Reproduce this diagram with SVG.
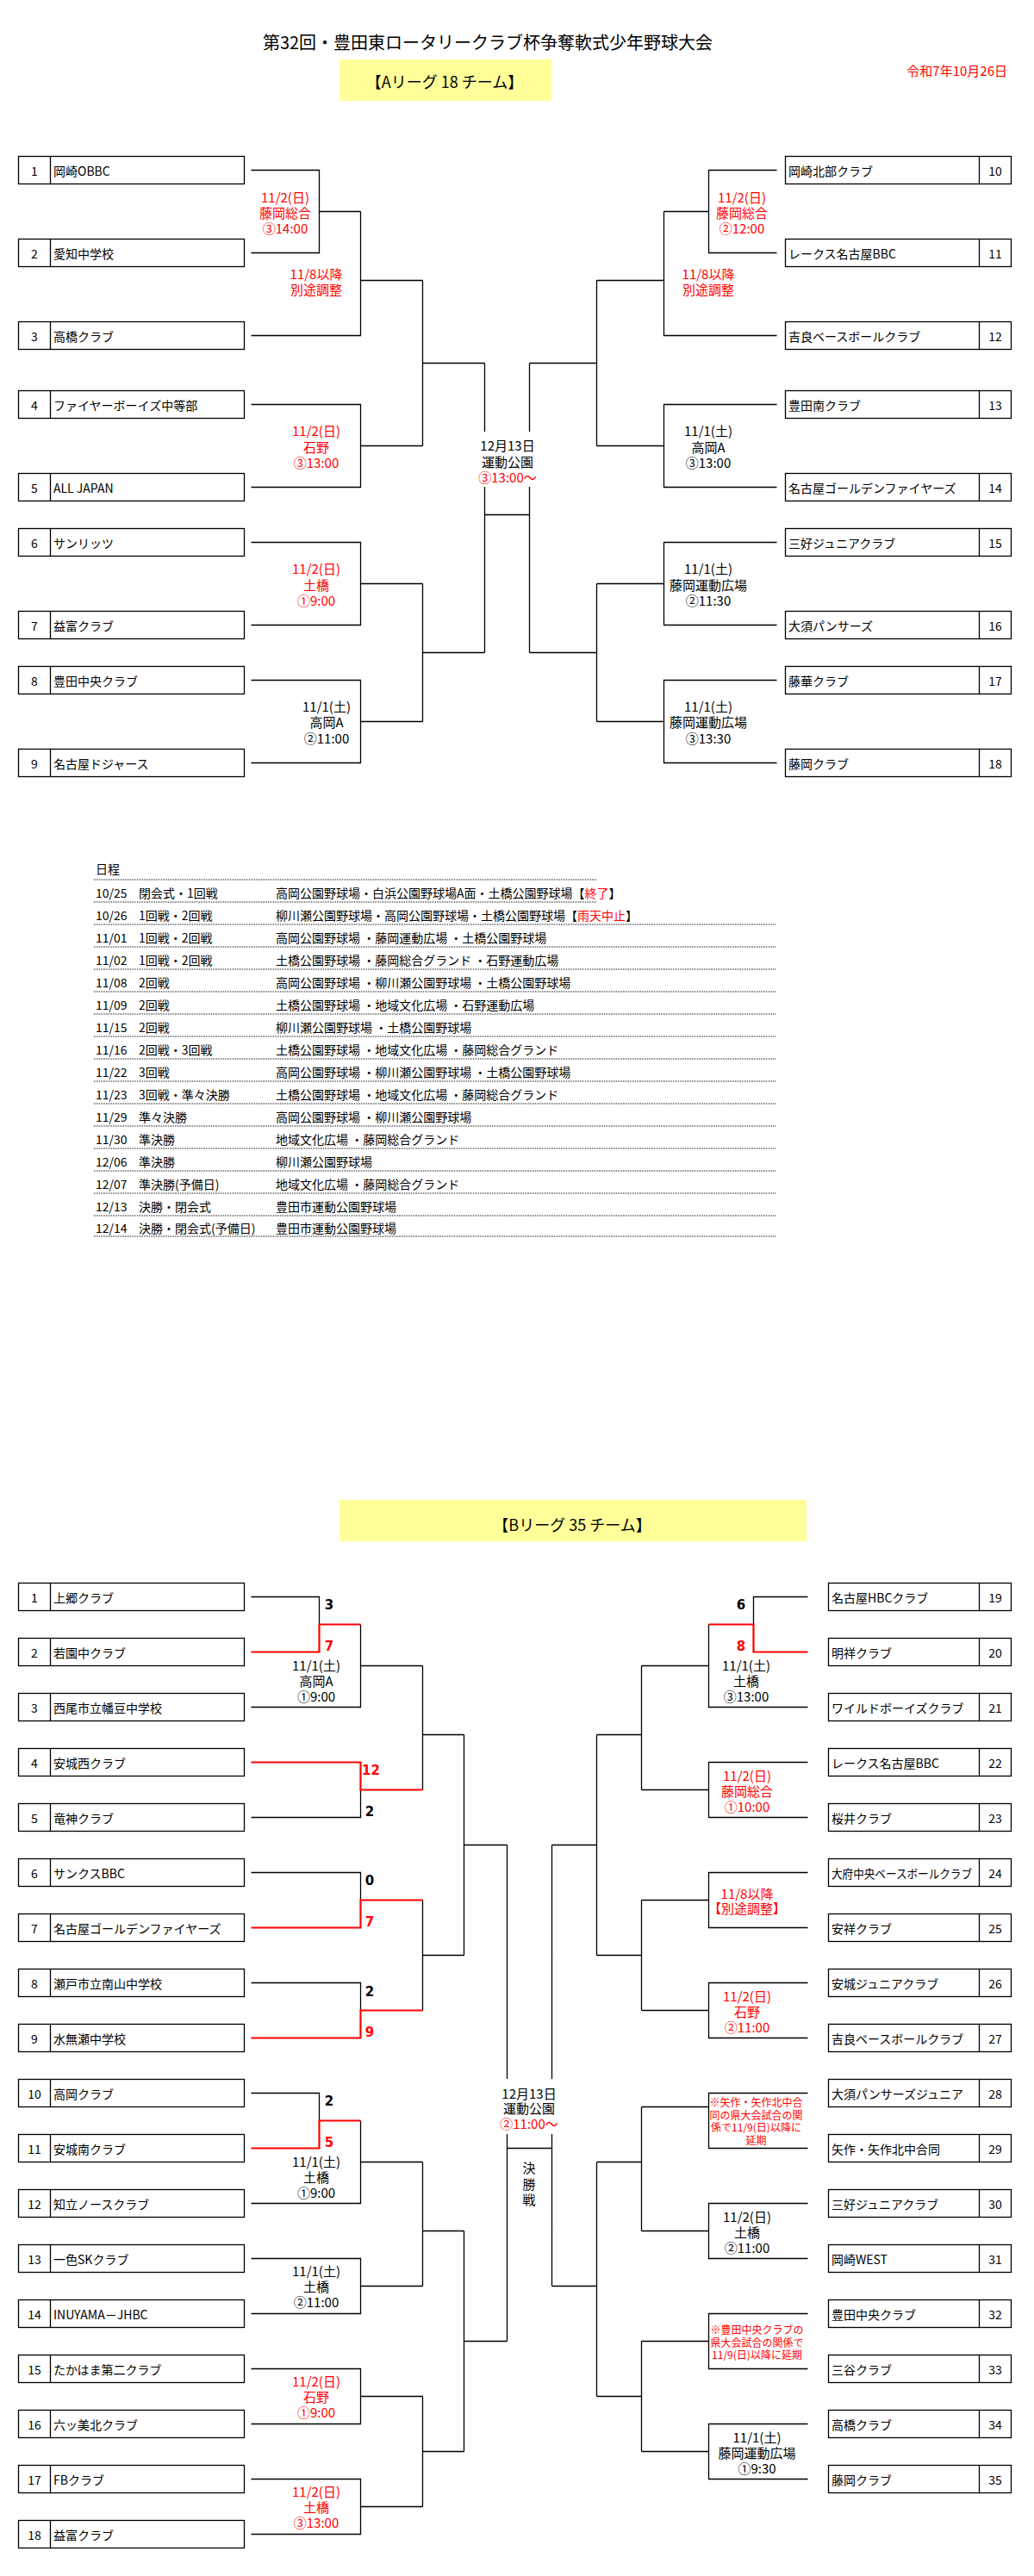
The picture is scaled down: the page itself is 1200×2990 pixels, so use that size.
<svg xmlns="http://www.w3.org/2000/svg" width="1200" height="2990" viewBox="0 0 1200 2990">
<style>
text{font-family:"Noto Sans CJK JP","Noto Sans CJK SC",sans-serif;dominant-baseline:central;fill:#000}
.r{fill:#f00}
.nm{font-size:14px}
.no{font-size:14px;text-anchor:middle}
.lb{font-size:15px;text-anchor:middle}
.sm{font-size:12px;text-anchor:middle}
.sc{font-family:"DejaVu Sans",sans-serif;font-weight:bold;font-size:15px;text-anchor:middle}
.sch{font-size:14px}
.box{fill:#fff;stroke:#000;stroke-width:1.3}
.dv{stroke:#000;stroke-width:1.3}
.ln{fill:none;stroke:#000;stroke-width:1.3}
.rl{fill:none;stroke:#f00;stroke-width:2.2}
.dot{stroke:#000;stroke-width:1;stroke-dasharray:1 1}
.yel{fill:#ffff99}
</style>
<defs>
<g id="boxL"><rect class="box" x="21.5" y="0" width="262" height="32"/><line class="dv" x1="58.5" y1="0" x2="58.5" y2="32"/></g>
<g id="boxRA"><rect class="box" x="911.5" y="0" width="262" height="32"/><line class="dv" x1="1136.5" y1="0" x2="1136.5" y2="32"/></g>
<g id="boxRB"><rect class="box" x="961.5" y="0" width="212" height="32"/><line class="dv" x1="1136.5" y1="0" x2="1136.5" y2="32"/></g>
</defs>

<g id="header">
<text x="566" y="48.5" style="font-size:20px;text-anchor:middle">第32回・豊田東ロータリークラブ杯争奪軟式少年野球大会</text>
<text x="1169" y="81.5" class="r" style="font-size:15px;text-anchor:end">令和7年10月26日</text>
<rect class="yel" x="394" y="69" width="246" height="48"/>
<text x="516" y="94" style="font-size:18px;text-anchor:middle">【Aリーグ 18 チーム】</text>
</g>

<!-- A league teams -->
<g id="a1" transform="translate(0,181.5)"><use href="#boxL"/><text class="no" x="40" y="16">1</text><text class="nm" x="62" y="16">岡崎OBBC</text></g>
<g id="a2" transform="translate(0,277.5)"><use href="#boxL"/><text class="no" x="40" y="16">2</text><text class="nm" x="62" y="16">愛知中学校</text></g>
<g id="a3" transform="translate(0,373.5)"><use href="#boxL"/><text class="no" x="40" y="16">3</text><text class="nm" x="62" y="16">高橋クラブ</text></g>
<g id="a4" transform="translate(0,453.5)"><use href="#boxL"/><text class="no" x="40" y="16">4</text><text class="nm" x="62" y="16">ファイヤーボーイズ中等部</text></g>
<g id="a5" transform="translate(0,549.5)"><use href="#boxL"/><text class="no" x="40" y="16">5</text><text class="nm" x="62" y="16">ALL JAPAN</text></g>
<g id="a6" transform="translate(0,613.5)"><use href="#boxL"/><text class="no" x="40" y="16">6</text><text class="nm" x="62" y="16">サンリッツ</text></g>
<g id="a7" transform="translate(0,709.5)"><use href="#boxL"/><text class="no" x="40" y="16">7</text><text class="nm" x="62" y="16">益富クラブ</text></g>
<g id="a8" transform="translate(0,773.5)"><use href="#boxL"/><text class="no" x="40" y="16">8</text><text class="nm" x="62" y="16">豊田中央クラブ</text></g>
<g id="a9" transform="translate(0,869.5)"><use href="#boxL"/><text class="no" x="40" y="16">9</text><text class="nm" x="62" y="16">名古屋ドジャース</text></g>
<g id="a10" transform="translate(0,181.5)"><use href="#boxRA"/><text class="nm" x="915" y="16">岡崎北部クラブ</text><text class="no" x="1155" y="16">10</text></g>
<g id="a11" transform="translate(0,277.5)"><use href="#boxRA"/><text class="nm" x="915" y="16">レークス名古屋BBC</text><text class="no" x="1155" y="16">11</text></g>
<g id="a12" transform="translate(0,373.5)"><use href="#boxRA"/><text class="nm" x="915" y="16">吉良ベースボールクラブ</text><text class="no" x="1155" y="16">12</text></g>
<g id="a13" transform="translate(0,453.5)"><use href="#boxRA"/><text class="nm" x="915" y="16">豊田南クラブ</text><text class="no" x="1155" y="16">13</text></g>
<g id="a14" transform="translate(0,549.5)"><use href="#boxRA"/><text class="nm" x="915" y="16">名古屋ゴールデンファイヤーズ</text><text class="no" x="1155" y="16">14</text></g>
<g id="a15" transform="translate(0,613.5)"><use href="#boxRA"/><text class="nm" x="915" y="16">三好ジュニアクラブ</text><text class="no" x="1155" y="16">15</text></g>
<g id="a16" transform="translate(0,709.5)"><use href="#boxRA"/><text class="nm" x="915" y="16">大須パンサーズ</text><text class="no" x="1155" y="16">16</text></g>
<g id="a17" transform="translate(0,773.5)"><use href="#boxRA"/><text class="nm" x="915" y="16">藤華クラブ</text><text class="no" x="1155" y="16">17</text></g>
<g id="a18" transform="translate(0,869.5)"><use href="#boxRA"/><text class="nm" x="915" y="16">藤岡クラブ</text><text class="no" x="1155" y="16">18</text></g>

<g id="connectors-a">
<path class="ln" d="M291.5,197.5H370.5V293.5H291.5M370.5,245.5H418.5M291.5,389.5H418.5V245.5M418.5,325.5H490.5M291.5,469.5H418.5V565.5H291.5M418.5,517.5H490.5M490.5,325.5V517.5M490.5,421.5H562.5M291.5,629.5H418.5V725.5H291.5M418.5,677.5H490.5M291.5,789.5H418.5V885.5H291.5M418.5,837.5H490.5M490.5,677.5V837.5M490.5,757.5H562.5M562.5,421.5V501M562.5,565V757.5M562.5,597.5H614.5M614.5,421.5V501M614.5,565V757.5M614.5,421.5H692.5M614.5,757.5H692.5M901.5,197.5H822.5V293.5H901.5M822.5,245.5H770.5M901.5,389.5H770.5V245.5M770.5,325.5H692.5M901.5,469.5H770.5V565.5H901.5M770.5,517.5H692.5M692.5,325.5V517.5M901.5,629.5H770.5V725.5H901.5M770.5,677.5H692.5M901.5,789.5H770.5V885.5H901.5M770.5,837.5H692.5M692.5,677.5V837.5"/>
</g>

<g id="labels-a">
<text class="lb r" x="331" y="228">11/2(日)</text><text class="lb r" x="331" y="246">藤岡総合</text><text class="lb r" x="331" y="264">③14:00</text>
<text class="lb r" x="367" y="317">11/8以降</text><text class="lb r" x="367" y="335">別途調整</text>
<text class="lb r" x="367" y="499.5">11/2(日)</text><text class="lb r" x="367" y="518">石野</text><text class="lb r" x="367" y="536">③13:00</text>
<text class="lb r" x="367" y="659.5">11/2(日)</text><text class="lb r" x="367" y="678">土橋</text><text class="lb r" x="367" y="696">①9:00</text>
<text class="lb" x="379" y="819.5">11/1(土)</text><text class="lb" x="379" y="837.5">高岡A</text><text class="lb" x="379" y="856">②11:00</text>
<text class="lb" x="589" y="516.5">12月13日</text><text class="lb" x="589" y="535">運動公園</text><text class="lb r" x="589" y="553.5">③13:00～</text>
<text class="lb r" x="861" y="228">11/2(日)</text><text class="lb r" x="861" y="246">藤岡総合</text><text class="lb r" x="861" y="264">②12:00</text>
<text class="lb r" x="822" y="317">11/8以降</text><text class="lb r" x="822" y="335">別途調整</text>
<text class="lb" x="822" y="499.5">11/1(土)</text><text class="lb" x="822" y="518">高岡A</text><text class="lb" x="822" y="536">③13:00</text>
<text class="lb" x="822" y="659.5">11/1(土)</text><text class="lb" x="822" y="678">藤岡運動広場</text><text class="lb" x="822" y="696">②11:30</text>
<text class="lb" x="822" y="819.5">11/1(土)</text><text class="lb" x="822" y="837.5">藤岡運動広場</text><text class="lb" x="822" y="856">③13:30</text>
</g>

<!-- Schedule -->
<g id="schedule">
<text class="sch" x="111" y="1008">日程</text>
<line class="dot" x1="109" y1="1021" x2="692" y2="1021"/>
<line class="dot" x1="109" y1="1047" x2="692" y2="1047"/>
<line class="dot" x1="109" y1="1073" x2="900" y2="1073"/>
<line class="dot" x1="109" y1="1099" x2="900" y2="1099"/>
<line class="dot" x1="109" y1="1125" x2="900" y2="1125"/>
<line class="dot" x1="109" y1="1151" x2="900" y2="1151"/>
<line class="dot" x1="109" y1="1177" x2="900" y2="1177"/>
<line class="dot" x1="109" y1="1203" x2="900" y2="1203"/>
<line class="dot" x1="109" y1="1229" x2="900" y2="1229"/>
<line class="dot" x1="109" y1="1255" x2="900" y2="1255"/>
<line class="dot" x1="109" y1="1281" x2="900" y2="1281"/>
<line class="dot" x1="109" y1="1307" x2="900" y2="1307"/>
<line class="dot" x1="109" y1="1333" x2="900" y2="1333"/>
<line class="dot" x1="109" y1="1359" x2="900" y2="1359"/>
<line class="dot" x1="109" y1="1385" x2="900" y2="1385"/>
<line class="dot" x1="109" y1="1411" x2="900" y2="1411"/>
<line class="dot" x1="109" y1="1435" x2="900" y2="1435"/>
<text class="sch" x="111" y="1036">10/25</text><text class="sch" x="161" y="1036">閉会式・1回戦</text><text class="sch" x="320" y="1036">高岡公園野球場・白浜公園野球場A面・土橋公園野球場【<tspan class="r">終了</tspan>】</text>
<text class="sch" x="111" y="1062">10/26</text><text class="sch" x="161" y="1062">1回戦・2回戦</text><text class="sch" x="320" y="1062">柳川瀬公園野球場・高岡公園野球場・土橋公園野球場【<tspan class="r">雨天中止</tspan>】</text>
<text class="sch" x="111" y="1088">11/01</text><text class="sch" x="161" y="1088">1回戦・2回戦</text><text class="sch" x="320" y="1088">高岡公園野球場 ・藤岡運動広場 ・土橋公園野球場</text>
<text class="sch" x="111" y="1114">11/02</text><text class="sch" x="161" y="1114">1回戦・2回戦</text><text class="sch" x="320" y="1114">土橋公園野球場 ・藤岡総合グランド ・石野運動広場</text>
<text class="sch" x="111" y="1140">11/08</text><text class="sch" x="161" y="1140">2回戦</text><text class="sch" x="320" y="1140">高岡公園野球場 ・柳川瀬公園野球場 ・土橋公園野球場</text>
<text class="sch" x="111" y="1166">11/09</text><text class="sch" x="161" y="1166">2回戦</text><text class="sch" x="320" y="1166">土橋公園野球場 ・地域文化広場 ・石野運動広場</text>
<text class="sch" x="111" y="1192">11/15</text><text class="sch" x="161" y="1192">2回戦</text><text class="sch" x="320" y="1192">柳川瀬公園野球場 ・土橋公園野球場</text>
<text class="sch" x="111" y="1218">11/16</text><text class="sch" x="161" y="1218">2回戦・3回戦</text><text class="sch" x="320" y="1218">土橋公園野球場 ・地域文化広場 ・藤岡総合グランド</text>
<text class="sch" x="111" y="1243.5">11/22</text><text class="sch" x="161" y="1243.5">3回戦</text><text class="sch" x="320" y="1243.5">高岡公園野球場 ・柳川瀬公園野球場 ・土橋公園野球場</text>
<text class="sch" x="111" y="1269.5">11/23</text><text class="sch" x="161" y="1269.5">3回戦・準々決勝</text><text class="sch" x="320" y="1269.5">土橋公園野球場 ・地域文化広場 ・藤岡総合グランド</text>
<text class="sch" x="111" y="1295.5">11/29</text><text class="sch" x="161" y="1295.5">準々決勝</text><text class="sch" x="320" y="1295.5">高岡公園野球場 ・柳川瀬公園野球場</text>
<text class="sch" x="111" y="1321.5">11/30</text><text class="sch" x="161" y="1321.5">準決勝</text><text class="sch" x="320" y="1321.5">地域文化広場 ・藤岡総合グランド</text>
<text class="sch" x="111" y="1347.5">12/06</text><text class="sch" x="161" y="1347.5">準決勝</text><text class="sch" x="320" y="1347.5">柳川瀬公園野球場</text>
<text class="sch" x="111" y="1373.5">12/07</text><text class="sch" x="161" y="1373.5">準決勝(予備日)</text><text class="sch" x="320" y="1373.5">地域文化広場 ・藤岡総合グランド</text>
<text class="sch" x="111" y="1399.5">12/13</text><text class="sch" x="161" y="1399.5">決勝・閉会式</text><text class="sch" x="320" y="1399.5">豊田市運動公園野球場</text>
<text class="sch" x="111" y="1425">12/14</text><text class="sch" x="161" y="1425">決勝・閉会式(予備日)</text><text class="sch" x="320" y="1425">豊田市運動公園野球場</text>
</g>

<g id="header-b">
<rect class="yel" x="394" y="1741" width="542" height="48"/>
<text x="664" y="1769" style="font-size:18px;text-anchor:middle">【Bリーグ 35 チーム】</text>
</g>

<!-- B league teams -->
<g id="b1" transform="translate(0,1837.5)"><use href="#boxL"/><text class="no" x="40" y="16">1</text><text class="nm" x="62" y="16">上郷クラブ</text></g>
<g id="b2" transform="translate(0,1901.5)"><use href="#boxL"/><text class="no" x="40" y="16">2</text><text class="nm" x="62" y="16">若園中クラブ</text></g>
<g id="b3" transform="translate(0,1965.5)"><use href="#boxL"/><text class="no" x="40" y="16">3</text><text class="nm" x="62" y="16">西尾市立幡豆中学校</text></g>
<g id="b4" transform="translate(0,2029.5)"><use href="#boxL"/><text class="no" x="40" y="16">4</text><text class="nm" x="62" y="16">安城西クラブ</text></g>
<g id="b5" transform="translate(0,2093.5)"><use href="#boxL"/><text class="no" x="40" y="16">5</text><text class="nm" x="62" y="16">竜神クラブ</text></g>
<g id="b6" transform="translate(0,2157.5)"><use href="#boxL"/><text class="no" x="40" y="16">6</text><text class="nm" x="62" y="16">サンクスBBC</text></g>
<g id="b7" transform="translate(0,2221.5)"><use href="#boxL"/><text class="no" x="40" y="16">7</text><text class="nm" x="62" y="16">名古屋ゴールデンファイヤーズ</text></g>
<g id="b8" transform="translate(0,2285.5)"><use href="#boxL"/><text class="no" x="40" y="16">8</text><text class="nm" x="62" y="16">瀬戸市立南山中学校</text></g>
<g id="b9" transform="translate(0,2349.5)"><use href="#boxL"/><text class="no" x="40" y="16">9</text><text class="nm" x="62" y="16">水無瀬中学校</text></g>
<g id="b10" transform="translate(0,2413.5)"><use href="#boxL"/><text class="no" x="40" y="16">10</text><text class="nm" x="62" y="16">高岡クラブ</text></g>
<g id="b11" transform="translate(0,2477.5)"><use href="#boxL"/><text class="no" x="40" y="16">11</text><text class="nm" x="62" y="16">安城南クラブ</text></g>
<g id="b12" transform="translate(0,2541.5)"><use href="#boxL"/><text class="no" x="40" y="16">12</text><text class="nm" x="62" y="16">知立ノースクラブ</text></g>
<g id="b13" transform="translate(0,2605.5)"><use href="#boxL"/><text class="no" x="40" y="16">13</text><text class="nm" x="62" y="16">一色SKクラブ</text></g>
<g id="b14" transform="translate(0,2669.5)"><use href="#boxL"/><text class="no" x="40" y="16">14</text><text class="nm" x="62" y="16">INUYAMA－JHBC</text></g>
<g id="b15" transform="translate(0,2733.5)"><use href="#boxL"/><text class="no" x="40" y="16">15</text><text class="nm" x="62" y="16">たかはま第二クラブ</text></g>
<g id="b16" transform="translate(0,2797.5)"><use href="#boxL"/><text class="no" x="40" y="16">16</text><text class="nm" x="62" y="16">六ッ美北クラブ</text></g>
<g id="b17" transform="translate(0,2861.5)"><use href="#boxL"/><text class="no" x="40" y="16">17</text><text class="nm" x="62" y="16">FBクラブ</text></g>
<g id="b18" transform="translate(0,2925.5)"><use href="#boxL"/><text class="no" x="40" y="16">18</text><text class="nm" x="62" y="16">益富クラブ</text></g>

<g id="b19" transform="translate(0,1837.5)"><use href="#boxRB"/><text class="nm" x="965" y="16">名古屋HBCクラブ</text><text class="no" x="1155" y="16">19</text></g>
<g id="b20" transform="translate(0,1901.5)"><use href="#boxRB"/><text class="nm" x="965" y="16">明祥クラブ</text><text class="no" x="1155" y="16">20</text></g>
<g id="b21" transform="translate(0,1965.5)"><use href="#boxRB"/><text class="nm" x="965" y="16">ワイルドボーイズクラブ</text><text class="no" x="1155" y="16">21</text></g>
<g id="b22" transform="translate(0,2029.5)"><use href="#boxRB"/><text class="nm" x="965" y="16">レークス名古屋BBC</text><text class="no" x="1155" y="16">22</text></g>
<g id="b23" transform="translate(0,2093.5)"><use href="#boxRB"/><text class="nm" x="965" y="16">桜井クラブ</text><text class="no" x="1155" y="16">23</text></g>
<g id="b24" transform="translate(0,2157.5)"><use href="#boxRB"/><text class="nm" x="965" y="16" textLength="163" lengthAdjust="spacingAndGlyphs">大府中央ベースボールクラブ</text><text class="no" x="1155" y="16">24</text></g>
<g id="b25" transform="translate(0,2221.5)"><use href="#boxRB"/><text class="nm" x="965" y="16">安祥クラブ</text><text class="no" x="1155" y="16">25</text></g>
<g id="b26" transform="translate(0,2285.5)"><use href="#boxRB"/><text class="nm" x="965" y="16">安城ジュニアクラブ</text><text class="no" x="1155" y="16">26</text></g>
<g id="b27" transform="translate(0,2349.5)"><use href="#boxRB"/><text class="nm" x="965" y="16">吉良ベースボールクラブ</text><text class="no" x="1155" y="16">27</text></g>
<g id="b28" transform="translate(0,2413.5)"><use href="#boxRB"/><text class="nm" x="965" y="16">大須パンサーズジュニア</text><text class="no" x="1155" y="16">28</text></g>
<g id="b29" transform="translate(0,2477.5)"><use href="#boxRB"/><text class="nm" x="965" y="16">矢作・矢作北中合同</text><text class="no" x="1155" y="16">29</text></g>
<g id="b30" transform="translate(0,2541.5)"><use href="#boxRB"/><text class="nm" x="965" y="16">三好ジュニアクラブ</text><text class="no" x="1155" y="16">30</text></g>
<g id="b31" transform="translate(0,2605.5)"><use href="#boxRB"/><text class="nm" x="965" y="16">岡崎WEST</text><text class="no" x="1155" y="16">31</text></g>
<g id="b32" transform="translate(0,2669.5)"><use href="#boxRB"/><text class="nm" x="965" y="16">豊田中央クラブ</text><text class="no" x="1155" y="16">32</text></g>
<g id="b33" transform="translate(0,2733.5)"><use href="#boxRB"/><text class="nm" x="965" y="16">三谷クラブ</text><text class="no" x="1155" y="16">33</text></g>
<g id="b34" transform="translate(0,2797.5)"><use href="#boxRB"/><text class="nm" x="965" y="16">高橋クラブ</text><text class="no" x="1155" y="16">34</text></g>
<g id="b35" transform="translate(0,2861.5)"><use href="#boxRB"/><text class="nm" x="965" y="16">藤岡クラブ</text><text class="no" x="1155" y="16">35</text></g>

<g id="connectors-b">
<path class="ln" d="M291.5,1853.5H370.5V1885.5M418.5,1885.5V1981.5H291.5M418.5,1933.5H490.5M291.5,2109.5H418.5V2077.5M490.5,1933.5V2077.5M490.5,2013.5H538.5M291.5,2173.5H418.5V2205.5M291.5,2301.5H418.5V2333.5M490.5,2205.5V2333.5M490.5,2269.5H538.5M538.5,2013.5V2269.5M538.5,2141.5H588.5M291.5,2429.5H370.5V2461.5M418.5,2461.5V2557.5H291.5M418.5,2509.5H490.5M291.5,2621.5H418.5V2685.5H291.5M418.5,2653.5H490.5M490.5,2509.5V2653.5M490.5,2589.5H538.5M291.5,2749.5H418.5V2813.5H291.5M418.5,2781.5H490.5M291.5,2877.5H418.5V2941.5H291.5M418.5,2909.5H490.5M490.5,2781.5V2909.5M490.5,2845.5H538.5M538.5,2589.5V2845.5M538.5,2717.5H588.5M588.5,2141.5V2413M588.5,2477V2717.5M588.5,2493.5H640.5M640.5,2141.5V2413M640.5,2477V2653.5"/>
<path class="ln" d="M937.5,1853.5H874.5V1885.5M822.5,1885.5V1981.5H937.5M822.5,1933.5H744.5M937.5,2045.5H822.5V2109.5H937.5M822.5,2077.5H744.5M744.5,1933.5V2077.5M744.5,2013.5H692.5M937.5,2173.5H822.5V2237.5H937.5M822.5,2205.5H744.5M937.5,2301.5H822.5V2365.5H937.5M822.5,2333.5H744.5M744.5,2205.5V2333.5M744.5,2269.5H692.5M692.5,2013.5V2269.5M692.5,2141.5H640.5M937.5,2429.5H822.5V2493.5H937.5M822.5,2445.5H744.5M937.5,2557.5H822.5V2621.5H937.5M822.5,2589.5H744.5M744.5,2445.5V2589.5M744.5,2509.5H692.5M937.5,2685.5H822.5V2749.5H937.5M822.5,2717.5H744.5M937.5,2813.5H822.5V2877.5H937.5M822.5,2845.5H744.5M744.5,2717.5V2845.5M744.5,2781.5H692.5M692.5,2509.5V2781.5M692.5,2653.5H640.5"/>
<path class="rl" d="M291.5,1917.5H370.5V1885.5H418.5M291.5,2045.5H418.5V2077.5H490.5M291.5,2237.5H418.5V2205.5H490.5M291.5,2365.5H418.5V2333.5H490.5M291.5,2493.5H370.5V2461.5H418.5M937.5,1917.5H874.5V1885.5H822.5"/>
</g>

<g id="scores-b">
<text class="sc" x="382" y="1863">3</text>
<text class="sc r" x="382" y="1911">7</text>
<text class="sc r" x="430.5" y="2055">12</text>
<text class="sc" x="429" y="2103">2</text>
<text class="sc" x="429" y="2183">0</text>
<text class="sc r" x="429" y="2231">7</text>
<text class="sc" x="429" y="2312">2</text>
<text class="sc r" x="429" y="2359">9</text>
<text class="sc" x="382" y="2439">2</text>
<text class="sc r" x="382" y="2487">5</text>
<text class="sc" x="860" y="1863">6</text>
<text class="sc r" x="860" y="1911">8</text>
</g>

<g id="labels-b">
<text class="lb" x="367" y="1932">11/1(土)</text><text class="lb" x="367" y="1950">高岡A</text><text class="lb" x="367" y="1968">①9:00</text>
<text class="lb" x="367" y="2508">11/1(土)</text><text class="lb" x="367" y="2526">土橋</text><text class="lb" x="367" y="2544">①9:00</text>
<text class="lb" x="367" y="2635.5">11/1(土)</text><text class="lb" x="367" y="2653.5">土橋</text><text class="lb" x="367" y="2671.5">②11:00</text>
<text class="lb r" x="367" y="2763.5">11/2(日)</text><text class="lb r" x="367" y="2781.5">石野</text><text class="lb r" x="367" y="2799.5">①9:00</text>
<text class="lb r" x="367" y="2891.5">11/2(日)</text><text class="lb r" x="367" y="2909.5">土橋</text><text class="lb r" x="367" y="2927.5">③13:00</text>
<text class="lb" x="614" y="2429">12月13日</text><text class="lb" x="614" y="2446">運動公園</text><text class="lb r" x="614" y="2464">②11:00～</text>
<text class="lb" x="614" y="2515">決</text><text class="lb" x="614" y="2534">勝</text><text class="lb" x="614" y="2552.5">戦</text>
<text class="lb" x="866" y="1932">11/1(土)</text><text class="lb" x="866" y="1950">土橋</text><text class="lb" x="866" y="1968">③13:00</text>
<text class="lb r" x="867" y="2060">11/2(日)</text><text class="lb r" x="867" y="2078">藤岡総合</text><text class="lb r" x="867" y="2096">①10:00</text>
<text class="lb r" x="867" y="2197">11/8以降</text><text class="lb r" x="867" y="2214.5">【別途調整】</text>
<text class="lb r" x="867" y="2316">11/2(日)</text><text class="lb r" x="867" y="2334">石野</text><text class="lb r" x="867" y="2352">②11:00</text>
<text class="sm r" x="877.5" y="2439">※矢作・矢作北中合</text><text class="sm r" x="877.5" y="2454">同の県大会試合の関</text><text class="sm r" x="877.5" y="2468.5">係で11/9(日)以降に</text><text class="sm r" x="877.5" y="2483">延期</text>
<text class="lb" x="867" y="2572">11/2(日)</text><text class="lb" x="867" y="2590">土橋</text><text class="lb" x="867" y="2608">②11:00</text>
<text class="sm r" x="878.5" y="2703">※豊田中央クラブの</text><text class="sm r" x="878.5" y="2718">県大会試合の関係で</text><text class="sm r" x="878.5" y="2732.5">11/9(日)以降に延期</text>
<text class="lb" x="878.5" y="2828">11/1(土)</text><text class="lb" x="878.5" y="2846">藤岡運動広場</text><text class="lb" x="878.5" y="2864">①9:30</text>
</g>
</svg>
